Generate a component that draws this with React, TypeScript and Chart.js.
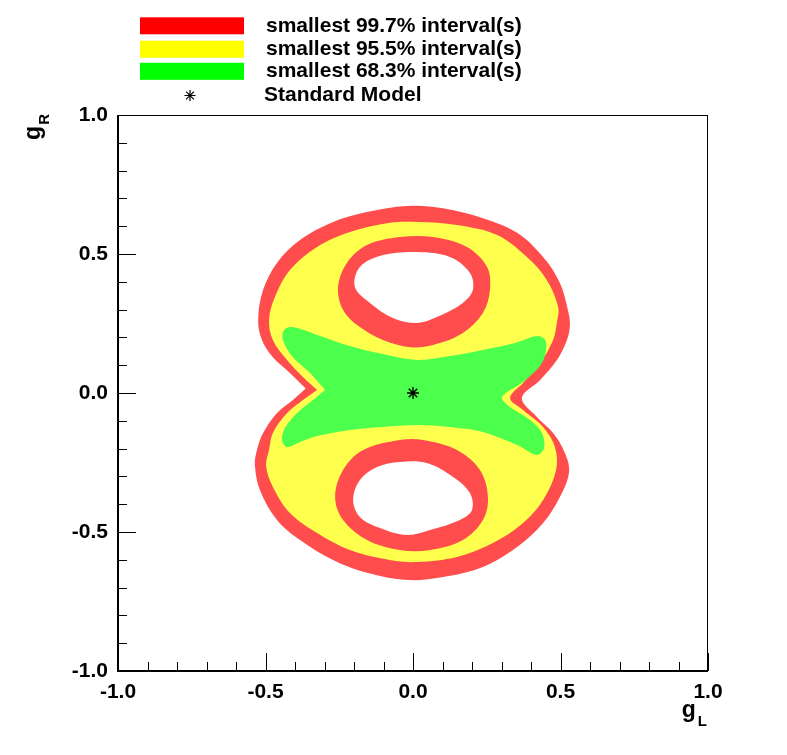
import React, { useEffect, useRef } from 'react';
import { Chart, registerables } from 'chart.js';

Chart.register(...registerables);

const FONT = '"Liberation Sans", Arial, Helvetica, sans-serif';

// Legend
const legendLabels = [
  'smallest 99.7% interval(s)',
  'smallest 95.5% interval(s)',
  'smallest 68.3% interval(s)',
  'Standard Model',
];
const legendColors = ['#ff0000', '#ffff00', '#00ff00'];

// Axes
const axisMin = -1;
const axisMax = 1;
const majorStep = 0.5;
const tickLabels = ['-1.0', '-0.5', '0.0', '0.5', '1.0'];

// Region colours (70% opacity over white, as in the picture)
const colour997 = '#ff4d4d';
const colour955 = '#ffff4d';
const colour683 = '#4dff4d';

// Outer boundary of the 99.7% region (g_L, g_R)
const outer997: [number, number][] = [
  [-0.364, 0.016], [-0.417, 0.072], [-0.475, 0.129], [-0.512, 0.191], [-0.525, 0.263],
  [-0.508, 0.371], [-0.461, 0.468], [-0.383, 0.55], [-0.271, 0.615], [-0.156, 0.651],
  [-0.02, 0.673], [0.102, 0.665], [0.237, 0.629], [0.353, 0.576], [0.441, 0.489],
  [0.498, 0.396], [0.525, 0.299], [0.532, 0.245], [0.522, 0.191], [0.488, 0.119],
  [0.431, 0.047], [0.369, -0.018], [0.42, -0.086], [0.475, -0.144], [0.515, -0.216],
  [0.529, -0.284], [0.498, -0.374], [0.441, -0.468], [0.353, -0.554], [0.237, -0.626],
  [0.102, -0.662], [-0.02, -0.673], [-0.156, -0.647], [-0.271, -0.601], [-0.383, -0.529],
  [-0.461, -0.457], [-0.519, -0.349], [-0.536, -0.259], [-0.529, -0.205], [-0.508, -0.144],
  [-0.461, -0.072], [-0.407, -0.025],
];

// Outer boundary of the 95.5% region
const outer955: [number, number][] = [
  [-0.325, 0.011], [-0.373, 0.058], [-0.427, 0.119], [-0.475, 0.191], [-0.488, 0.263],
  [-0.468, 0.345], [-0.417, 0.442], [-0.325, 0.525], [-0.214, 0.579], [-0.078, 0.612],
  [0.014, 0.615], [0.149, 0.604], [0.285, 0.568], [0.386, 0.489], [0.454, 0.406],
  [0.492, 0.309], [0.488, 0.255], [0.475, 0.191], [0.431, 0.108], [0.373, 0.036],
  [0.329, -0.018], [0.373, -0.061], [0.441, -0.122], [0.481, -0.194], [0.485, -0.277],
  [0.441, -0.385], [0.373, -0.468], [0.271, -0.54], [0.149, -0.59], [0.014, -0.608],
  [-0.078, -0.601], [-0.214, -0.565], [-0.325, -0.504], [-0.417, -0.432], [-0.475, -0.338],
  [-0.498, -0.263], [-0.488, -0.205], [-0.475, -0.144], [-0.427, -0.072], [-0.373, -0.025],
];

// Boundary of the 68.3% region
const outer683: [number, number][] = [
  [-0.298, 0.011], [-0.349, 0.072], [-0.407, 0.129], [-0.441, 0.191], [-0.437, 0.227],
  [-0.41, 0.237], [-0.325, 0.209], [-0.214, 0.169], [-0.102, 0.14], [0.014, 0.119],
  [0.125, 0.133], [0.237, 0.155], [0.346, 0.18], [0.424, 0.205], [0.451, 0.183],
  [0.437, 0.108], [0.373, 0.04], [0.302, -0.014], [0.329, -0.05], [0.397, -0.097],
  [0.437, -0.144], [0.444, -0.198], [0.42, -0.223], [0.353, -0.187], [0.237, -0.14],
  [0.125, -0.122], [0.014, -0.115], [-0.102, -0.122], [-0.214, -0.133], [-0.325, -0.155],
  [-0.383, -0.176], [-0.427, -0.194], [-0.444, -0.169], [-0.434, -0.126], [-0.393, -0.072],
  [-0.339, -0.025],
];

// Upper ring (99.7% only) and its empty hole
const upperRing: [number, number][] = [
  [-0.254, 0.381], [-0.224, 0.468], [-0.156, 0.532], [-0.044, 0.561], [0.068, 0.561],
  [0.183, 0.525], [0.251, 0.453], [0.261, 0.371], [0.237, 0.288], [0.169, 0.216],
  [0.068, 0.173], [-0.01, 0.165], [-0.102, 0.191], [-0.18, 0.237], [-0.237, 0.299],
];
const upperHole: [number, number][] = [
  [-0.197, 0.381], [-0.18, 0.453], [-0.102, 0.496], [0.014, 0.507], [0.125, 0.489],
  [0.193, 0.432], [0.203, 0.371], [0.169, 0.324], [0.081, 0.273], [0.014, 0.252],
  [-0.068, 0.27], [-0.146, 0.324],
];

// Lower ring (99.7% only) and its empty hole
const lowerRing: [number, number][] = [
  [-0.264, -0.374], [-0.237, -0.277], [-0.169, -0.205], [-0.044, -0.169], [0.034, -0.169],
  [0.149, -0.205], [0.227, -0.277], [0.254, -0.374], [0.237, -0.457], [0.169, -0.529],
  [0.058, -0.565], [-0.044, -0.565], [-0.156, -0.529], [-0.237, -0.457],
];
const lowerHole: [number, number][] = [
  [-0.203, -0.385], [-0.18, -0.313], [-0.122, -0.266], [-0.044, -0.248], [0.047, -0.252],
  [0.136, -0.302], [0.193, -0.36], [0.2, -0.421], [0.159, -0.457], [0.058, -0.493],
  [-0.02, -0.511], [-0.112, -0.486], [-0.18, -0.446],
];

// Standard Model point
const standardModel: [number, number][] = [[0, 0]];

// path that starts and ends on the first point (used where that point is a sharp tip)
function closed(arr: [number, number][]) {
  const pts = arr.map(([x, y]) => ({ x, y }));
  pts.push({ x: arr[0][0], y: arr[0][1] });
  return pts;
}

// path that wraps around so the smoothing is continuous at the seam (convex shapes)
function wrapped(arr: [number, number][]) {
  const n = arr.length;
  const seq = [arr[n - 1], ...arr, arr[0], arr[1]];
  return seq.map(([x, y]) => ({ x, y }));
}

function region(pts: { x: number; y: number }[], color: string, order: number) {
  return {
    data: pts,
    showLine: true,
    fill: 'shape',
    backgroundColor: color,
    borderColor: color,
    borderWidth: 0,
    pointRadius: 0,
    pointHoverRadius: 0,
    tension: 0.35,
    order,
  };
}

function drawAsterisk(ctx: CanvasRenderingContext2D, x: number, y: number, r: number) {
  ctx.beginPath();
  for (let k = 0; k < 4; k++) {
    const a = (k * Math.PI) / 4;
    ctx.moveTo(x - r * Math.cos(a), y - r * Math.sin(a));
    ctx.lineTo(x + r * Math.cos(a), y + r * Math.sin(a));
  }
  ctx.stroke();
}

const decorPlugin = {
  id: 'rootDecor',
  afterDraw(chart: any) {
    const { ctx, chartArea: a, scales } = chart;
    const xs = scales.x;
    const ys = scales.y;
    ctx.save();
    ctx.strokeStyle = '#000';
    ctx.fillStyle = '#000';

    // frame
    ctx.lineWidth = 1;
    ctx.beginPath();
    ctx.moveTo(a.left, a.top + 0.5);
    ctx.lineTo(a.right, a.top + 0.5);
    ctx.moveTo(a.right - 0.5, a.top);
    ctx.lineTo(a.right - 0.5, a.bottom);
    ctx.stroke();
    ctx.lineWidth = 2;
    ctx.beginPath();
    ctx.moveTo(a.left, a.top);
    ctx.lineTo(a.left, a.bottom);
    ctx.lineTo(a.right, a.bottom);
    ctx.stroke();

    // inward ticks
    ctx.lineWidth = 1;
    ctx.beginPath();
    for (let i = -10; i <= 10; i++) {
      const v = i / 10;
      const len = i % 5 === 0 ? 18 : 9;
      const px = Math.round(xs.getPixelForValue(v)) + 0.5;
      ctx.moveTo(px, a.bottom);
      ctx.lineTo(px, a.bottom - len);
      const py = Math.round(ys.getPixelForValue(v)) + 0.5;
      ctx.moveTo(a.left, py);
      ctx.lineTo(a.left + len, py);
    }
    ctx.stroke();

    // axis titles
    const bigFont = `bold 23px ${FONT}`;
    const subFont = `bold 15px ${FONT}`;
    ctx.textBaseline = 'alphabetic';
    ctx.textAlign = 'left';
    ctx.font = bigFont;
    const wg = ctx.measureText('g').width;
    ctx.font = subFont;
    const wL = ctx.measureText('L').width;
    const x0 = a.right - 1 - wL - wg - 2;
    ctx.font = bigFont;
    ctx.fillText('g', x0, 717);
    ctx.font = subFont;
    ctx.fillText('L', x0 + wg + 2, 726);

    ctx.save();
    ctx.translate(40, a.top - 1);
    ctx.rotate(-Math.PI / 2);
    ctx.font = subFont;
    const wR = ctx.measureText('R').width;
    ctx.textAlign = 'right';
    ctx.fillText('R', 0, 9);
    ctx.font = bigFont;
    ctx.fillText('g', -wR - 1, 0);
    ctx.restore();

    // legend
    const rows = [25.8, 49.2, 71.3, 95];
    for (let i = 0; i < 3; i++) {
      ctx.fillStyle = legendColors[i];
      ctx.fillRect(140, rows[i] - 8.5, 104, 17);
    }
    ctx.fillStyle = '#000';
    ctx.font = `bold 21px ${FONT}`;
    ctx.textAlign = 'left';
    ctx.textBaseline = 'middle';
    for (let i = 0; i < 4; i++) {
      ctx.fillText(legendLabels[i], i < 3 ? 266 : 264, rows[i]);
    }
    ctx.lineWidth = 1.2;
    drawAsterisk(ctx, 190, 95.5, 5.5);
    ctx.restore();
  },
};

export default function App() {
  const ref = useRef<HTMLCanvasElement>(null);

  useEffect(() => {
    if (!ref.current) return;
    const chart = new Chart(ref.current, {
      type: 'scatter',
      data: {
        datasets: [
          {
            label: legendLabels[3],
            data: standardModel.map(([x, y]) => ({ x, y })),
            pointStyle: 'star',
            pointRadius: 6,
            pointHoverRadius: 6,
            borderColor: '#000',
            backgroundColor: '#000',
            borderWidth: 1.4,
            showLine: false,
            order: 0,
          },
          region(wrapped(upperHole), '#ffffff', 2) as any,
          region(wrapped(lowerHole), '#ffffff', 2) as any,
          region(closed(outer683), colour683, 3) as any,
          region(wrapped(upperRing), colour997, 4) as any,
          region(wrapped(lowerRing), colour997, 4) as any,
          region(closed(outer955), colour955, 5) as any,
          region(closed(outer997), colour997, 6) as any,
        ],
      },
      options: {
        responsive: false,
        animation: false,
        events: [],
        layout: { padding: { left: 0, right: 79, top: 115, bottom: 0 } },
        plugins: {
          legend: { display: false },
          tooltip: { enabled: false },
        },
        scales: {
          x: {
            type: 'linear',
            min: axisMin,
            max: axisMax,
            grid: { display: false, drawTicks: false },
            border: { display: false },
            ticks: {
              stepSize: majorStep,
              padding: 9,
              color: '#000',
              font: { family: FONT, size: 21, weight: 'bold' },
              maxRotation: 0,
              autoSkip: false,
              callback: (_v: any, i: number) => tickLabels[i],
            },
            afterFit: (s: any) => {
              s.height = 84;
            },
          },
          y: {
            type: 'linear',
            min: axisMin,
            max: axisMax,
            grid: { display: false, drawTicks: false },
            border: { display: false },
            ticks: {
              stepSize: majorStep,
              padding: 10,
              color: '#000',
              font: { family: FONT, size: 21, weight: 'bold' },
              autoSkip: false,
              callback: (_v: any, i: number) => tickLabels[i],
            },
            afterFit: (s: any) => {
              s.width = 118;
            },
          },
        },
      },
      plugins: [decorPlugin],
    } as any);
    return () => chart.destroy();
  }, []);

  return (
    <div style={{ position: 'absolute', left: 0, top: 0, width: 787, height: 755, background: '#fff' }}>
      <canvas ref={ref} width={787} height={755} style={{ display: 'block', width: 787, height: 755 }} />
    </div>
  );
}
